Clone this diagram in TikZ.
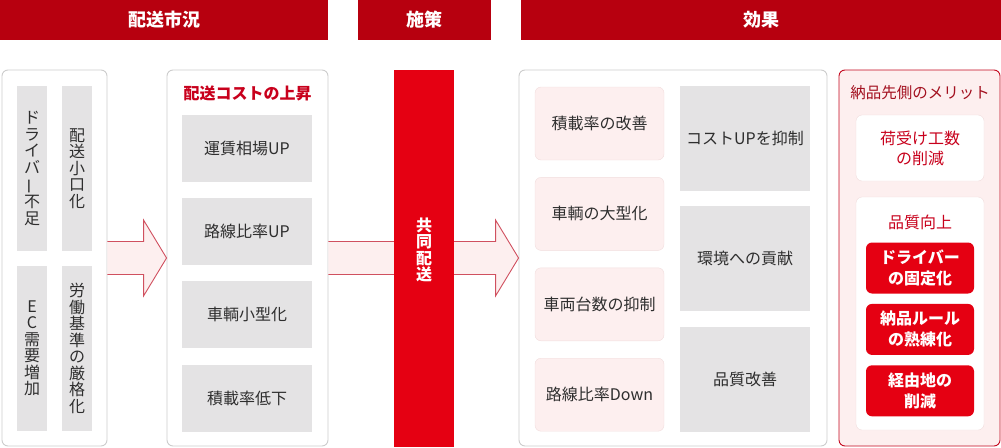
\documentclass[tikz,border=0pt]{standalone}
\usepackage{fontspec}
\setmainfont{Noto Sans CJK JP}
\usetikzlibrary{positioning, calc}
\definecolor{headred}{HTML}{B7000F}
\definecolor{barred}{HTML}{E50012}
\definecolor{titlered}{HTML}{C8001C}
\definecolor{darkred}{HTML}{A3101F}
\definecolor{meritline}{HTML}{C4081E}
\definecolor{boxgray}{HTML}{E4E3E4}
\definecolor{panelline}{HTML}{CCCCCC}
\definecolor{pinkfill}{HTML}{FDEFEF}
\definecolor{pinkline}{HTML}{F1DDDD}
\definecolor{arrowline}{HTML}{D0505F}
\definecolor{txt}{HTML}{2E2E2E}
\newcommand{\chouon}{\rotatebox[origin=c]{90}{ー}}

\begin{document}
\begin{tikzpicture}[
    x=1pt, y=-1pt,
    node distance=16pt,
    header/.style={fill=headred, text=white, minimum height=40pt, inner sep=0pt, font=\fontsize{18}{18}\selectfont\bfseries},
    panel/.style={draw=panelline, line width=0.9pt, rounded corners=6pt, minimum height=376pt, inner sep=0pt},
    graycol/.style={fill=boxgray, minimum width=30pt, minimum height=165pt, inner sep=0pt, align=center, text=txt, font=\fontsize{16}{16.5}\selectfont},
    graybox/.style={fill=boxgray, minimum width=130pt, inner sep=0pt, text=txt, font=\fontsize{16}{16}\selectfont},
    pinkbox/.style={fill=pinkfill, draw=pinkline, rounded corners=6pt, minimum width=129pt, minimum height=73pt, inner sep=0pt, text=txt, font=\fontsize{16}{16}\selectfont},
    whitebox/.style={fill=white, draw=pinkline, rounded corners=6pt, minimum width=128pt, inner sep=0pt, align=center, text=titlered, font=\fontsize{16}{20}\selectfont},
    redbox/.style={fill=barred, rounded corners=6pt, minimum width=108pt, minimum height=51pt, inner sep=0pt, align=center, text=white, font=\fontsize{16}{21}\selectfont\bfseries},
    bigarrow/.style={fill=pinkfill, draw=arrowline, line width=0.9pt, line join=miter}
  ]
    \useasboundingbox (0,0) rectangle (1001,447);

    % headers
    \node[header, minimum width=328pt] (hsit) at (164,20) {配送市況};
    \node[header, minimum width=133pt] (hplan) at (424.5,20) {施策};
    \node[header, minimum width=480pt] (heff) at (761,20) {効果};

    % situation
    \node[panel, minimum width=105pt] (sit) at (54.5,258) {};
    \node[graycol] (s1) at (32,168.5) {ド\\ラ\\イ\\バ\\\chouon\\不\\足};
    \node[graycol] (s2) at (77,168.5) {配\\送\\小\\口\\化};
    \node[graycol] (s3) at (32,348.5) {E\\C\\需\\要\\増\\加};
    \node[graycol] (s4) at (77,348.5) {労\\働\\基\\準\\の\\厳\\格\\化};

    % cost
    \node[panel, minimum width=161pt] (cost) at (247.5,258) {};
    \node[text=titlered, font=\fontsize{16}{16}\selectfont\bfseries] (costtitle) at (247.5,93) {配送コストの上昇};
    \node[graybox, minimum height=67pt] (c1) at (247,148) {運賃相場UP};
    \node[graybox, minimum height=67pt, below=of c1] (c2) {路線比率UP};
    \node[graybox, minimum height=67pt, below=of c2] (c3) {車輌小型化};
    \node[graybox, minimum height=67pt, below=of c3] (c4) {積載率低下};

    % effects
    \node[panel, minimum width=308pt] (eff) at (673,258) {};
    \node[pinkbox] (e1) at (599.5,123.5) {積載率の改善};
    \node[pinkbox, below=17pt of e1] (e2) {車輌の大型化};
    \node[pinkbox, below=17pt of e2] (e3) {車両台数の抑制};
    \node[pinkbox, below=17pt of e3] (e4) {路線比率Down};
    \node[graybox, minimum height=105pt] (g1) at (745,138.5) {コストUPを抑制};
    \node[graybox, minimum height=105pt, below=15pt of g1] (g2) {環境への貢献};
    \node[graybox, minimum height=105pt, below=15pt of g2] (g3) {品質改善};

    % merits
    \node[panel, draw=meritline, fill=pinkfill, minimum width=161pt] (merit) at (919.5,258) {};
    \node[text=darkred, font=\fontsize{15.5}{16}\selectfont] (merittitle) at (920,93) {納品先側のメリット};
    \node[whitebox, minimum height=66pt] (m1) at (920,148) {荷受け工数\\の削減};
    \node[whitebox, minimum height=233pt] (m2) at (920,313.5) {};
    \node[text=titlered, font=\fontsize{16}{16}\selectfont] (m2title) at (920,222) {品質向上};
    \node[redbox] (r1) at (920,268) {ドライバー\\の固定化};
    \node[redbox, below=10pt of r1] (r2) {納品ルール\\の熟練化};
    \node[redbox, below=10pt of r2] (r3) {経由地の\\削減};

    % arrows
    \draw[bigarrow] ($(sit.east)+(0,16.5)$) -- ($(cost.west)+(-23,16.5)$) -- ($(cost.west)+(-23,38)$)
      -- (cost.west) -- ($(cost.west)+(-23,-38)$) -- ($(cost.west)+(-23,-16.5)$) -- ($(sit.east)+(0,-16.5)$);
    \draw[bigarrow] ($(cost.east)+(0,16.5)$) -- ($(eff.west)+(-23,16.5)$) -- ($(eff.west)+(-23,38)$)
      -- (eff.west) -- ($(eff.west)+(-23,-38)$) -- ($(eff.west)+(-23,-16.5)$) -- ($(cost.east)+(0,-16.5)$);

    % joint delivery
    \node[fill=barred, minimum width=60pt, minimum height=377pt, inner sep=0pt] (plan) at (424,258.5) {};
    \node[align=center, text=white, font=\fontsize{16}{16.5}\selectfont\bfseries] (plantext) at (424,250) {共\\同\\配\\送};
  \end{tikzpicture}
\end{document}
